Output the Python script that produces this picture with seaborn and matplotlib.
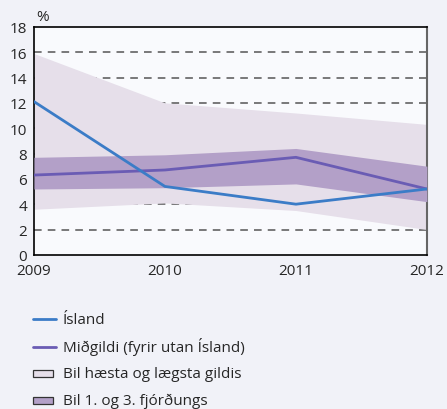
import numpy as np
import pandas as pd
import matplotlib
matplotlib.use('Agg')
import matplotlib.pyplot as plt
import seaborn as sns
from matplotlib.patches import Rectangle
from matplotlib.lines import Line2D

# Gögn lesin af myndinni
years = [2009, 2010, 2011, 2012]
island = [12.1, 5.4, 4.0, 5.2]
median = [6.3, 6.7, 7.7, 5.2]
q1 = [5.2, 5.3, 5.6, 4.2]
q3 = [7.7, 7.9, 8.4, 7.0]
low = [3.6, 4.1, 3.5, 2.0]
high = [15.9, 12.0, 11.2, 10.3]

df = pd.DataFrame({'Year': years, 'Ísland': island, 'Miðgildi': median})

sns.set_style('white')
plt.rcParams['font.family'] = ['Open Sans', 'DejaVu Sans']

W, H = 447, 410
fig = plt.figure(figsize=(W / 100, H / 100), dpi=100)
fig.patch.set_facecolor('#f1f2f8')
ax = fig.add_axes([0.076, 0.376, 0.879, 0.556])
ax.set_facecolor('#f9fafd')

for y in range(2, 18, 2):
    ax.axhline(y, color='#555555', lw=1.1, ls=(0, (5, 4)), zorder=1)

ax.fill_between(years, low, high, color='#e6dfea', lw=0, zorder=2)
ax.fill_between(years, q1, q3, color='#b3a0c8', lw=0, zorder=3)

sns.lineplot(data=df, x='Year', y='Miðgildi', color='#6a5cb4', lw=2, ax=ax, zorder=4)
sns.lineplot(data=df, x='Year', y='Ísland', color='#3b7cc7', lw=2, ax=ax, zorder=5)

ax.set_xlim(2009, 2012)
ax.set_ylim(0, 18)
ax.set_xticks(years)
ax.set_yticks(range(0, 19, 2))
ax.set_xlabel('')
ax.set_ylabel('')
ax.tick_params(axis='both', labelsize=11, length=4, width=1, color='black', direction='out', pad=1)
ax.tick_params(axis='x', pad=2)
for s in ['left', 'bottom', 'top']:
    ax.spines[s].set_color('black')
    ax.spines[s].set_linewidth(1.2)
ax.spines['right'].set_color('#666666')
ax.spines['right'].set_linewidth(1.5)

fig.text(0.080, 0.949, '%', fontsize=11, ha='left', va='baseline')

# Skýringar teiknaðar handvirkt svo bilið verði jafnt
labels = ['Ísland', 'Miðgildi (fyrir utan Ísland)', 'Bil hæsta og lægsta gildis', 'Bil 1. og 3. fjórðungs']
row_px = [320, 348, 374, 401]
x0, x1, xt = 33 / W, 56 / W, 63 / W
for i, (lab, py) in enumerate(zip(labels, row_px)):
    yc = 1 - py / H
    if i == 0:
        fig.add_artist(Line2D([x0, x1], [yc, yc], color='#3b7cc7', lw=2, transform=fig.transFigure))
    elif i == 1:
        fig.add_artist(Line2D([x0, x1], [yc, yc], color='#6a5cb4', lw=2, transform=fig.transFigure))
    else:
        fc = '#e6dfea' if i == 2 else '#b3a0c8'
        fig.add_artist(Rectangle((x0, yc - 3.5 / H), 20 / W, 7 / H, facecolor=fc,
                                 edgecolor='#333333', lw=0.9, transform=fig.transFigure))
    fig.text(xt, yc - 4.5 / H, lab, fontsize=11, ha='left', va='baseline')

fig.savefig('out.png', dpi=100, facecolor=fig.get_facecolor())
